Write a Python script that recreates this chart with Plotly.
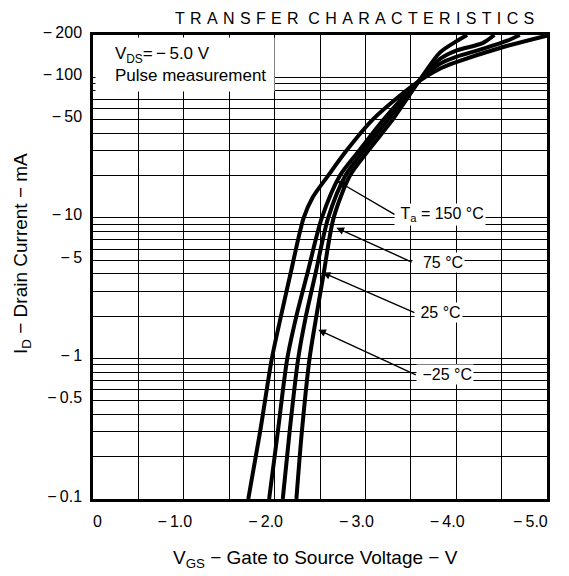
import math
import plotly.graph_objects as go

# ---------------- data ----------------
# |V_GS| in volts, |I_D| in mA
v_150 = [1.71, 1.84, 1.97, 2.07, 2.175, 2.32, 2.42, 2.59, 2.79, 3.08, 3.53, 3.82, 4.00, 4.50, 5.00]
i_150 = [0.1, 0.3, 1, 2, 4, 10, 14, 20, 30, 50, 88, 115, 128, 163, 198]

v_75 = [1.94, 2.035, 2.14, 2.24, 2.36, 2.52, 2.72, 2.93, 3.20, 3.54, 3.82, 4.00, 4.30, 4.57, 4.70]
i_75 = [0.1, 0.3, 1, 2, 4, 10, 20, 30, 50, 88, 125, 140, 160, 183, 200]

v_25 = [2.09, 2.165, 2.26, 2.345, 2.45, 2.59, 2.78, 2.98, 3.25, 3.55, 3.82, 4.00, 4.29, 4.42]
i_25 = [0.1, 0.3, 1, 2, 4, 10, 20, 30, 50, 88, 135, 155, 175, 200]

v_m25 = [2.24, 2.30, 2.385, 2.46, 2.54, 2.65, 2.83, 3.03, 3.30, 3.56, 3.82, 4.00, 4.12]
i_m25 = [0.1, 0.3, 1, 2, 4, 10, 20, 30, 50, 88, 150, 180, 200]

x_tickvals = [0, 1, 2, 3, 4, 5]
x_ticktext = ["\u2007\u2007\u20070", "\u2212\u20091.0", "\u2212\u20092.0", "\u2212\u20093.0",
              "\u2212\u20094.0", "\u2212\u20095.0\u2007\u2009\u2009"]
x_minor = [0.5, 1.5, 2.5, 3.5, 4.5]

y_tickvals = [0.1, 0.5, 1, 5, 10, 50, 100, 200]
y_ticktext = ["\u2212\u20090.1", "\u2212\u20090.5", "\u2212\u20091", "\u2212\u20095",
              "\u2212\u200910", "\u2212\u200950", "\u2212\u2009100", "\u2212\u2009200"]
y_minor = [0.2, 0.3, 0.4, 0.6, 0.7, 0.8, 0.9, 2, 3, 4, 6, 7, 8, 9,
           20, 30, 40, 60, 70, 80, 90]

# curve labels: text, arrow tip (V, mA), label/arrow-tail anchor (V, mA)
label_text = ["\u00a0T<sub>a</sub> = 150 \u00b0C", "\u00a0\u00a075 \u00b0C",
              "\u00a025 \u00b0C", "\u00a0\u221225 \u00b0C"]
tip_v = [2.69, 2.68, 2.53, 2.48]
tip_i = [18.3, 8.5, 4.08, 1.60]
tail_v = [3.32, 3.51, 3.54, 3.555]
tail_i = [10.6, 4.85, 2.12, 0.765]

FONT = "Liberation Sans, Arial, Helvetica, sans-serif"

fig = go.Figure()
for vv, ii in [(v_150, i_150), (v_75, i_75), (v_25, i_25), (v_m25, i_m25)]:
    fig.add_trace(go.Scatter(x=vv, y=ii, mode="lines",
                             line=dict(color="black", width=4, shape="spline", smoothing=0.8),
                             showlegend=False, hoverinfo="skip"))

ann = []
for k in range(4):
    ann.append(dict(x=tip_v[k], y=math.log10(tip_i[k]), ax=tail_v[k], ay=math.log10(tail_i[k]),
                    xref="x", yref="y", axref="x", ayref="y", text=label_text[k],
                    xanchor="left", yanchor="middle", showarrow=True,
                    arrowhead=2, arrowsize=1.1, arrowwidth=1.4, arrowcolor="black",
                    bgcolor="white", borderpad=1,
                    font=dict(size=16, color="black", family=FONT)))

sp = "\u2004"
title_txt = (sp.join("TRANSFER") + " " + sp + sp.join("CHARACTERISTICS"))
ann.append(dict(x=0.5768, y=1.0578, xref="paper", yref="paper", text=title_txt, showarrow=False,
                xanchor="center", yanchor="top", font=dict(size=16, color="black", family=FONT)))

# conditions box (white, covers the grid in the upper-left corner)
ind = "\u00a0" * 4
ann.append(dict(x=0.0037, y=0.9963, xref="paper", yref="paper",
                text=ind + "V<sub>DS</sub>=\u2009\u2212\u20095.0 V<br>" + ind + "Pulse measurement",
                showarrow=False, xanchor="left", yanchor="top", align="left", valign="middle",
                width=178, height=53, bgcolor="white", borderpad=0,
                font=dict(size=17, color="black", family=FONT)))

ann.append(dict(x=0.491, y=-0.1287, xref="paper", yref="paper",
                text="V<sub>GS</sub> \u2212 Gate to Source Voltage \u2212 V",
                showarrow=False, xanchor="center", yanchor="middle",
                font=dict(size=19, color="black", family=FONT)))
ann.append(dict(x=-0.158, y=0.5287, xref="paper", yref="paper", textangle=-90,
                text="I<sub>D</sub> \u2212 Drain Current \u2212 mA",
                showarrow=False, xanchor="center", yanchor="middle",
                font=dict(size=19, color="black", family=FONT)))

fig.update_layout(
    width=561, height=568,
    margin=dict(l=85, r=22, t=27, b=77),
    paper_bgcolor="white", plot_bgcolor="white",
    font=dict(family=FONT, size=16, color="black"),
    annotations=ann,
    xaxis=dict(range=[0, 5], tickmode="array", tickvals=x_tickvals, ticktext=x_ticktext,
               showgrid=True, gridcolor="black", gridwidth=1.3,
               minor=dict(tickmode="array", tickvals=x_minor, showgrid=True,
                          gridcolor="black", gridwidth=1.3, ticks=""),
               showline=True, linecolor="black", linewidth=2.5, mirror=True,
               zeroline=False, ticks="", ticklabelstandoff=6, ticklabelshift=-9,
               automargin=False,
               tickfont=dict(size=16, family=FONT, color="black")),
    yaxis=dict(type="log", range=[-1, math.log10(200)], tickmode="array",
               tickvals=y_tickvals, ticktext=y_ticktext,
               showgrid=True, gridcolor="black", gridwidth=1.3,
               minor=dict(tickmode="array", tickvals=y_minor, showgrid=True,
                          gridcolor="black", gridwidth=1.3, ticks=""),
               showline=True, linecolor="black", linewidth=2.5, mirror=True,
               zeroline=False, ticks="", ticklabelstandoff=5, ticklabelshift=-3,
               automargin=False,
               tickfont=dict(size=16, family=FONT, color="black")),
)

fig.write_html("out.html")
